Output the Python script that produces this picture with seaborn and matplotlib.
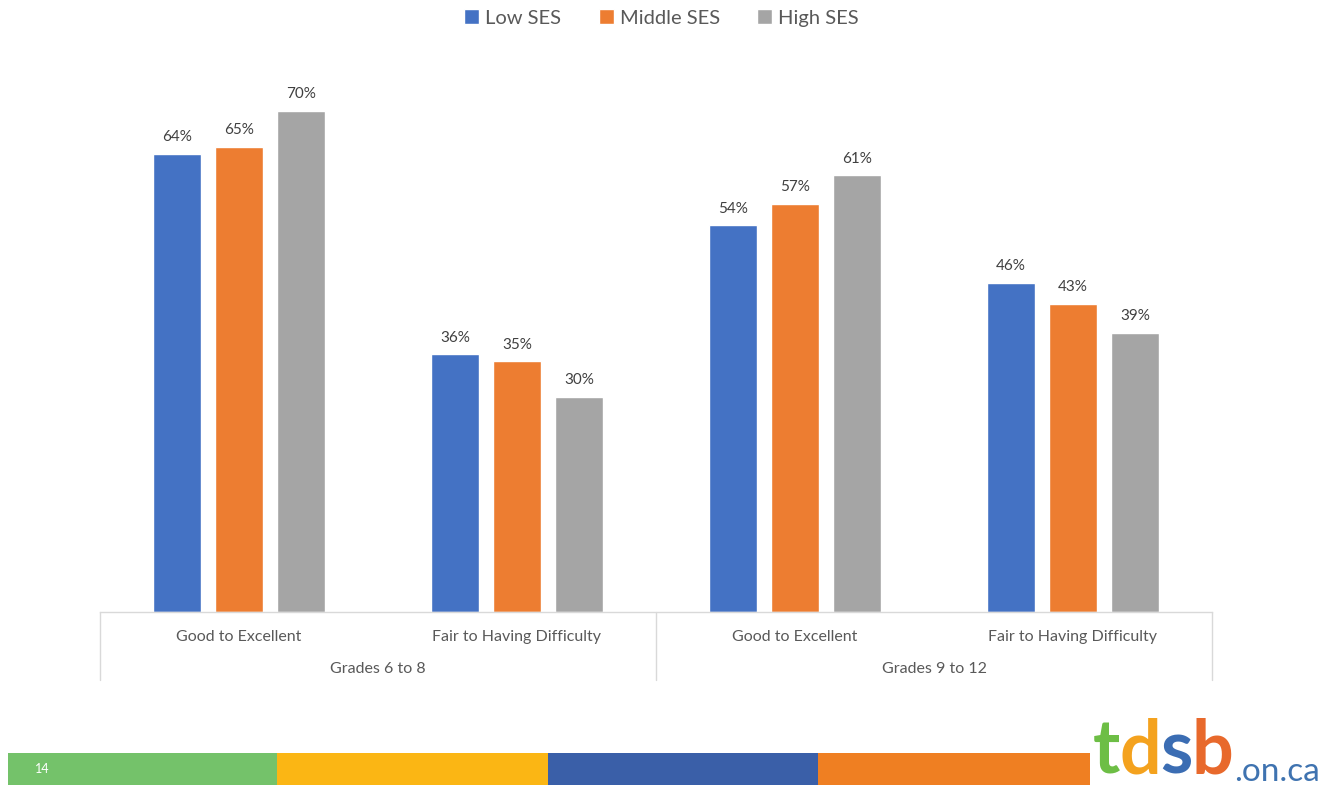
import matplotlib
matplotlib.use("Agg")
import matplotlib.pyplot as plt
from matplotlib.patches import Rectangle
import seaborn as sns
import pandas as pd

# Self-rated health by socio-economic status, TDSB student survey
ratings = ["Good to Excellent", "Fair to Having Difficulty"]
grade_groups = ["Grades 6 to 8", "Grades 9 to 12"]
ses_levels = ["Low SES", "Middle SES", "High SES"]
low_ses = [64, 36, 54, 46]
middle_ses = [65, 35, 57, 43]
high_ses = [70, 30, 61, 39]

ses_colors = ["#4472C4", "#ED7D31", "#A5A5A5"]
band_colors = ["#74C26A", "#FBB614", "#3A5FA8", "#EF7F22"]
page_number = "14"

# Long-form table: one row per bar
keys = [f"{g}|{r}" for g in grade_groups for r in ratings]
rows = []
for level, values in zip(ses_levels, [low_ses, middle_ses, high_ses]):
    for key, v in zip(keys, values):
        rows.append({"group": key, "SES": level, "pct": v})
df = pd.DataFrame(rows)

sns.set_theme(style="white")
plt.rcParams["font.family"] = ["Lato", "DejaVu Sans"]
text_color = "#595959"

W, H = 1331, 788
fig = plt.figure(figsize=(W / 100, H / 100), dpi=100)
ax_left, ax_right, ax_bottom, ax_top = 100, 1212, 612, 60
ax = fig.add_axes([ax_left / W, 1 - ax_bottom / H,
                   (ax_right - ax_left) / W, (ax_bottom - ax_top) / H])

sns.barplot(data=df, x="group", y="pct", hue="SES", order=keys,
            hue_order=ses_levels, palette=ses_colors, width=0.67, gap=0.22,
            saturation=1, ax=ax)

ax.set_xlim(-0.5, 3.5)
ax.set_ylim(0, 77.1)
ax.set_xlabel("")
ax.set_ylabel("")
ax.set_yticks([])
for side in ["left", "right", "top"]:
    ax.spines[side].set_visible(False)
ax.spines["bottom"].set_color("#D9D9D9")
ax.spines["bottom"].set_linewidth(1.0)

# Value labels above each bar
for cont in ax.containers:
    ax.bar_label(cont, labels=[f"{v:.0f}%" for v in cont.datavalues],
                 padding=7, fontsize=11, color="#404040")

# Category labels and grade grouping
ax.set_xticks(range(len(keys)))
ax.set_xticklabels([k.split("|")[1] for k in keys], fontsize=11.5, color=text_color)
ax.tick_params(axis="x", length=0, pad=13)

trans = ax.get_xaxis_transform()
depth = (680 - 612) / (ax_bottom - ax_top)
for xsep in [-0.5, 1.5, 3.5]:
    ax.plot([xsep, xsep], [0, -depth], transform=trans, color="#D9D9D9",
            lw=1.0, clip_on=False)
group_y = -(669 - 612) / (ax_bottom - ax_top)
for i, g in enumerate(grade_groups):
    ax.text(2 * i + 0.5, group_y, g, transform=trans, ha="center", va="center",
            fontsize=11.5, color=text_color)

# Legend across the top
sns.move_legend(ax, "upper center", bbox_to_anchor=(0.497, 1 + 9 / H),
                bbox_transform=fig.transFigure, ncol=3, frameon=False,
                title=None, fontsize=14.5, handlelength=0.75, handleheight=0.75,
                handletextpad=0.3, columnspacing=1.85, labelcolor=text_color)

# Footer colour band with page number
band_x = [8, 277, 548, 818, 1090]
for i, c in enumerate(band_colors):
    fig.patches.append(Rectangle((band_x[i] / W, 1 - 785 / H),
                                 (band_x[i + 1] - band_x[i]) / W, 32 / H,
                                 transform=fig.transFigure, color=c, lw=0))
fig.text(42 / W, 1 - 769 / H, page_number, color="white", fontsize=9,
         ha="center", va="center")

# Logo wordmark, kept fully inside the bottom edge
fig.canvas.draw()
renderer = fig.canvas.get_renderer()
x = 1093
bottom_y = 1 - 787 / H
for ch, col in zip("tdsb", ["#6DBE45", "#F4A21E", "#3B6DB3", "#E8692C"]):
    t = fig.text(x / W, bottom_y, ch, color=col, fontsize=53, fontweight="bold",
                 family="Lato", ha="left", va="bottom")
    x += t.get_window_extent(renderer).width - 1
fig.text((x + 2) / W, bottom_y, ".on.ca", color="#3F73B0", fontsize=24,
         family="Lato", ha="left", va="bottom")

fig.savefig("out.png", dpi=100)
